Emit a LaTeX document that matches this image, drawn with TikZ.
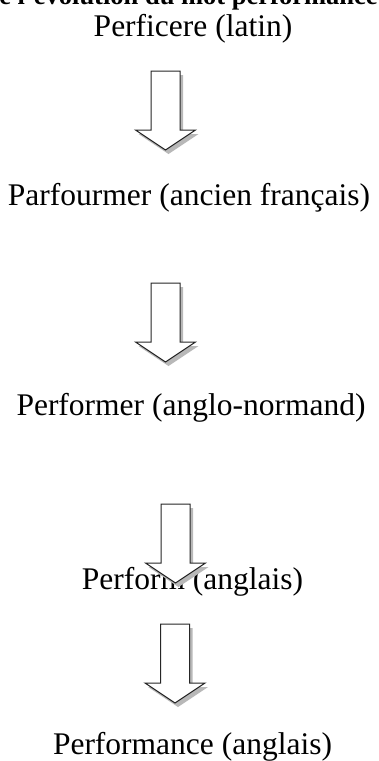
\documentclass[tikz,border=0pt]{standalone}
\usepackage{fontspec}
\setmainfont{Liberation Serif}

\tikzset{
  word/.style={anchor=base, inner sep=0pt, font=\fontsize{15.75}{19}\selectfont},
  heading/.style={anchor=base east, inner sep=0pt, font=\fontsize{13.25}{16}\selectfont\bfseries},
  blockarrow/.pic={
    \fill[black!28, shift={(3,4)}] (-14.5,0) -- (-14.5,59) -- (-30,59) -- (0,79) -- (30,59) -- (14.5,59) -- (14.5,0) -- cycle;
    \filldraw[fill=white, draw=black!85, line width=0.5pt] (-14.5,0) -- (-14.5,59) -- (-30,59) -- (0,79) -- (30,59) -- (14.5,59) -- (14.5,0) -- cycle;
  }
}

\begin{document}
\begin{tikzpicture}[x=0.5pt, y=-0.5pt]

\clip (0,0) rectangle (379,761);

% title, cut at the top of the page
\node[heading] (title) at (378,4) {de l'évolution du mot performance};

% the words
\node[word] (latin) at (193,36) {Perficere (latin)};
\node[word] (ancien) at (189,205) {Parfourmer (ancien français)};
\node[word] (normand) at (191,415) {Performer (anglo-normand)};
\node[word] (perform) at (192.5,589) {Perform (anglais)};
\node[word] (performance) at (192.5,754) {Performance (anglais)};

% block arrows
\pic (arrowA) at (165.5,71) {blockarrow};
\pic (arrowB) at (165.5,283) {blockarrow};
\pic (arrowC) at (175.5,504) {blockarrow};
\pic (arrowD) at (175,624) {blockarrow};

\end{tikzpicture}
\end{document}
